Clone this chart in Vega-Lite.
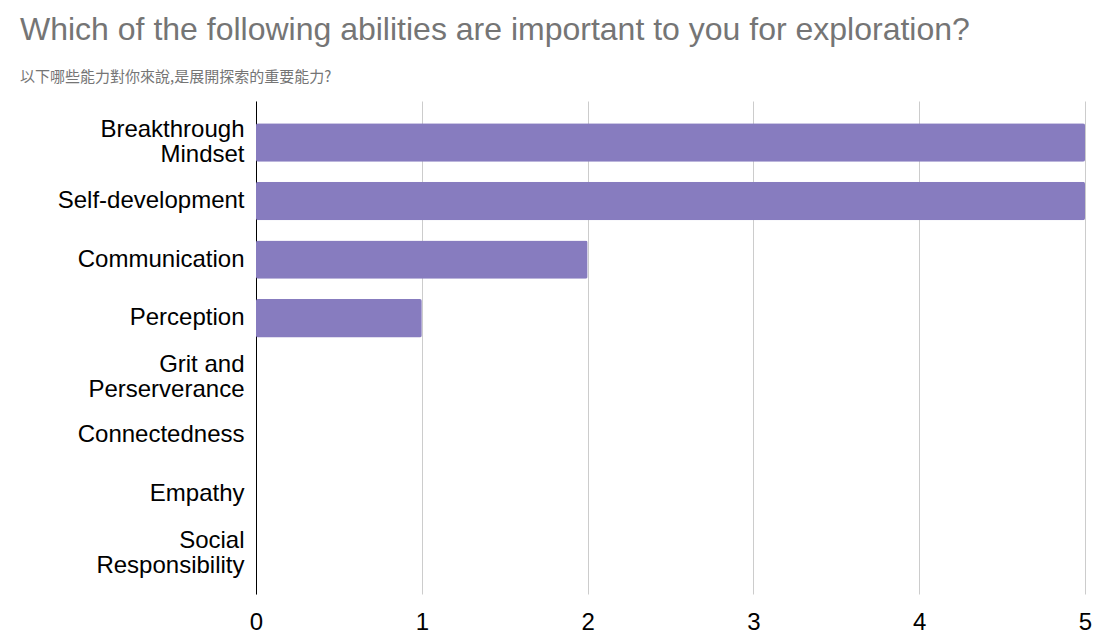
{
  "$schema": "https://vega.github.io/schema/vega-lite/v6.json",
  "autosize": "none",
  "width": 829,
  "height": 493,
  "padding": {"left": 256, "top": 101, "right": 11, "bottom": 46},
  "background": "white",
  "title": {
    "text": "Which of the following abilities are important to you for exploration?",
    "subtitle": "以下哪些能力對你來說,是展開探索的重要能力?",
    "anchor": "start",
    "frame": "group",
    "dx": -236,
    "offset": 15,
    "font": "Liberation Sans",
    "fontSize": 32,
    "fontWeight": "normal",
    "color": "#757575",
    "subtitleFont": "Noto Sans CJK TC",
    "subtitleFontSize": 15,
    "subtitleColor": "#757575",
    "subtitlePadding": 23
  },
  "data": {
    "values": [
      {"ability": "Breakthrough Mindset", "count": 5},
      {"ability": "Self-development", "count": 5},
      {"ability": "Communication", "count": 2},
      {"ability": "Perception", "count": 1},
      {"ability": "Grit and Perserverance", "count": 0},
      {"ability": "Connectedness", "count": 0},
      {"ability": "Empathy", "count": 0},
      {"ability": "Social Responsibility", "count": 0}
    ]
  },
  "mark": {"type": "bar", "color": "#877cbf", "cornerRadius": 2},
  "encoding": {
    "y": {
      "field": "ability",
      "type": "nominal",
      "sort": null,
      "scale": {"paddingInner": 0.344, "paddingOuter": 0.38},
      "axis": {
        "title": null,
        "ticks": false,
        "domain": true,
        "domainColor": "#000000",
        "domainWidth": 1,
        "grid": false,
        "labelFont": "Liberation Sans",
        "labelFontSize": 24,
        "labelColor": "#000000",
        "labelPadding": 12,
        "labelLimit": 300,
        "labelLineHeight": 25,
        "labelOffset": {
          "condition": {"test": "datum.value == 'Breakthrough Mindset' || datum.value == 'Grit and Perserverance' || datum.value == 'Social Responsibility'", "value": -12},
          "value": 0
        },
        "labelExpr": "datum.value == 'Breakthrough Mindset' ? ['Breakthrough','Mindset'] : datum.value == 'Grit and Perserverance' ? ['Grit and','Perserverance'] : datum.value == 'Social Responsibility' ? ['Social','Responsibility'] : datum.value"
      }
    },
    "x": {
      "field": "count",
      "type": "quantitative",
      "scale": {"domain": [0, 5], "nice": false},
      "axis": {
        "title": null,
        "values": [0, 1, 2, 3, 4, 5],
        "format": "d",
        "ticks": false,
        "domain": false,
        "grid": true,
        "gridColor": "#cccccc",
        "gridWidth": 1,
        "labelFont": "Liberation Sans",
        "labelFontSize": 24,
        "labelColor": "#000000",
        "labelPadding": 16,
        "labelFlush": false
      }
    }
  },
  "config": {"view": {"stroke": null}}
}
